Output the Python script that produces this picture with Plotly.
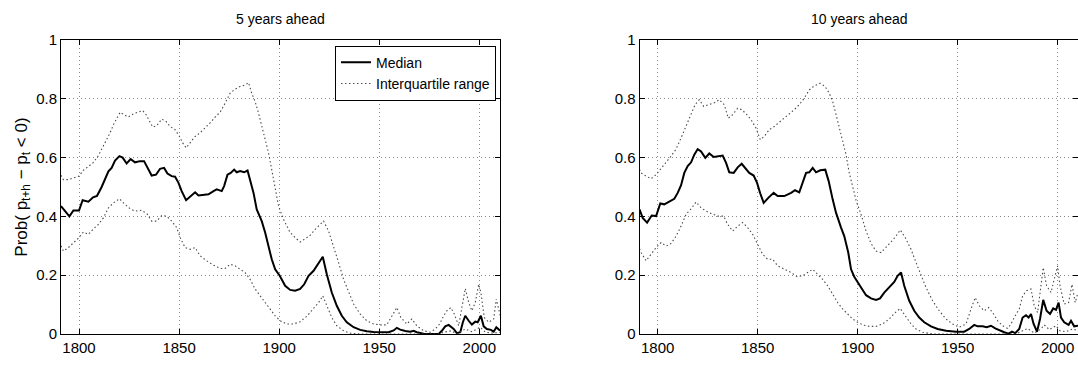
import plotly.graph_objects as go

# ---------------- data: 5 years ahead ----------------
med5_years = [1791, 1793, 1795.2, 1797.2, 1800, 1801.8, 1804.7, 1807, 1809, 1811.3,
              1813, 1814.7, 1816.3, 1818, 1820.2, 1821.8, 1823.8, 1825.8, 1828, 1830.5,
              1832.5, 1834.2, 1836.3, 1838.5, 1840.5, 1842.5, 1844.2, 1846.3, 1848, 1849.7,
              1851.3, 1853.5, 1855.5, 1858, 1859.7, 1862.2, 1864.7, 1867.2, 1868.8, 1871.3,
              1872.5, 1874.2, 1875.8, 1877.5, 1878.8, 1880.5, 1882.5, 1884.2, 1885.5, 1887.2,
              1888.8, 1891.3, 1893, 1894.7, 1896.3, 1898, 1900.3, 1903, 1905.5, 1908,
              1910.5, 1912.5, 1914.7, 1917.2, 1919.2, 1921.3, 1921.8, 1923.8, 1926.3, 1928.8,
              1931.3, 1933.8, 1937.2, 1940.5, 1943.8, 1947.2, 1950.5, 1954.7, 1957.2, 1958.8,
              1960.5, 1963, 1965.5, 1967.2, 1968.8, 1972.2, 1975.5, 1979.7, 1981.3, 1983,
              1984.7, 1985.8, 1987.2, 1988.8, 1990.5, 1991.8, 1993, 1994.7, 1996.3, 1998,
              1999.2, 2000.8, 2002.2, 2003.8, 2005.8, 2007.2, 2008.5, 2009.8, 2010.5]
med5_vals = [0.435, 0.418, 0.40, 0.42, 0.42, 0.455, 0.45, 0.465, 0.47, 0.50,
             0.53, 0.553, 0.565, 0.59, 0.605, 0.60, 0.58, 0.595, 0.584, 0.588,
             0.588, 0.565, 0.539, 0.542, 0.562, 0.565, 0.546, 0.537, 0.535, 0.514,
             0.486, 0.455, 0.467, 0.482, 0.471, 0.473, 0.475, 0.486, 0.492, 0.486,
             0.503, 0.542, 0.548, 0.559, 0.55, 0.554, 0.55, 0.556, 0.525, 0.48,
             0.424, 0.384, 0.345, 0.30, 0.254, 0.22, 0.198, 0.164, 0.15, 0.147,
             0.153, 0.169, 0.198, 0.215, 0.237, 0.26, 0.263, 0.203, 0.141, 0.096,
             0.062, 0.04, 0.023, 0.014, 0.009, 0.007, 0.006, 0.006, 0.012, 0.021,
             0.015, 0.01, 0.008, 0.011, 0.006, 0.001, 0.0, 0.0, 0.011, 0.026,
             0.031, 0.026, 0.017, 0.003, 0.006, 0.04, 0.062, 0.045, 0.032, 0.042,
             0.04, 0.062, 0.026, 0.017, 0.014, 0.008, 0.023, 0.015, 0.012]

up5_years = [1791, 1792.2, 1794.7, 1797.2, 1800, 1802.2, 1804.7, 1807, 1809.7, 1811.8,
             1813.8, 1815.5, 1817.2, 1819.2, 1820.5, 1822.5, 1824.7, 1827.2, 1829.7, 1831.8,
             1833.5, 1835.2, 1836.8, 1838.8, 1841.3, 1843.5, 1845.5, 1848, 1850.2, 1851.8,
             1853.5, 1855.5, 1858, 1860.5, 1863, 1865.5, 1868, 1870.5, 1873, 1875.5,
             1878, 1880.5, 1883, 1884.7, 1886.3, 1888, 1889.7, 1891.3, 1893, 1894.7,
             1896.3, 1898, 1899.7, 1902.2, 1905.5, 1908, 1910.5, 1913, 1915.5, 1918,
             1920.5, 1922.2, 1924.7, 1927.2, 1929.7, 1932.2, 1934.7, 1937.2, 1940.5, 1943.8,
             1947.2, 1950.5, 1953.8, 1957.2, 1958.8, 1960.8, 1963.8, 1966.3, 1968.8, 1972.2,
             1975.5, 1978, 1980.2, 1982.2, 1983.8, 1985.8, 1987.5, 1989.7, 1991.3, 1993,
             1994.7, 1996.3, 1998, 1999.7, 2000.8, 2002.5, 2004.7, 2007.2, 2008.5, 2010.5]
up5_vals = [0.54, 0.525, 0.525, 0.531, 0.537, 0.557, 0.571, 0.582, 0.607, 0.633,
            0.663, 0.684, 0.712, 0.74, 0.754, 0.746, 0.738, 0.749, 0.754, 0.76,
            0.746, 0.723, 0.704, 0.708, 0.731, 0.723, 0.706, 0.695, 0.672, 0.65,
            0.633, 0.65, 0.672, 0.684, 0.70, 0.718, 0.738, 0.754, 0.785, 0.819,
            0.833, 0.842, 0.847, 0.855, 0.819, 0.791, 0.751, 0.706, 0.667, 0.616,
            0.559, 0.497, 0.435, 0.39, 0.345, 0.328, 0.313, 0.324, 0.336, 0.356,
            0.373, 0.384, 0.35, 0.30, 0.243, 0.186, 0.141, 0.102, 0.068, 0.045,
            0.034, 0.031, 0.031, 0.068, 0.09, 0.056, 0.034, 0.051, 0.028, 0.011,
            0.006, 0.017, 0.034, 0.062, 0.079, 0.09, 0.068, 0.028, 0.096, 0.155,
            0.107, 0.079, 0.107, 0.169, 0.141, 0.056, 0.04, 0.051, 0.119, 0.062]

lo5_years = [1791, 1792.2, 1794.7, 1797.2, 1800, 1802.2, 1804.7, 1807, 1809.7, 1812.2,
             1814.7, 1817.2, 1820.2, 1823, 1825.5, 1828, 1831.3, 1834.2, 1836.3, 1838.8,
             1841.3, 1843.8, 1846.3, 1848.8, 1850.8, 1853, 1855.5, 1858, 1860.5, 1863.8,
             1867.2, 1870.5, 1873, 1875.5, 1878, 1880.5, 1883, 1885.5, 1888, 1890.5,
             1893, 1895.5, 1898, 1900.5, 1903.8, 1907.2, 1910.5, 1913.8, 1917.2, 1919.7,
             1921.8, 1923.8, 1926.3, 1928.8, 1932.2, 1935.5, 1940.5, 1960, 1980, 1982.2,
             1986, 1988.8, 1993, 1996.3, 2000.5, 2003, 2007.2, 2010.5]
lo5_vals = [0.30, 0.282, 0.294, 0.31, 0.328, 0.347, 0.339, 0.356, 0.373, 0.395,
            0.429, 0.446, 0.46, 0.441, 0.426, 0.418, 0.421, 0.407, 0.384, 0.384,
            0.403, 0.401, 0.384, 0.362, 0.324, 0.294, 0.288, 0.294, 0.266, 0.249,
            0.234, 0.223, 0.223, 0.237, 0.232, 0.22, 0.209, 0.186, 0.153, 0.13,
            0.107, 0.085, 0.062, 0.045, 0.034, 0.034, 0.042, 0.06, 0.085, 0.107,
            0.13, 0.096, 0.056, 0.028, 0.011, 0.003, 0.0, 0.0, 0.0, 0.006,
            0.011, 0.0, 0.017, 0.008, 0.023, 0.006, 0.003, 0.006]

# ---------------- data: 10 years ahead ----------------
med10_years = [1790.9, 1792.5, 1794.7, 1797, 1799.2, 1801.3, 1803.3, 1805.8, 1808.3, 1810,
               1811.7, 1813.3, 1815, 1816.7, 1818.3, 1820, 1821.7, 1823.8, 1825.8, 1828,
               1830, 1832.5, 1834.2, 1835.8, 1838, 1840, 1842, 1843.7, 1845.8, 1848,
               1849.7, 1851.3, 1853, 1855.3, 1858, 1860, 1863.3, 1866.7, 1868.7, 1870.8,
               1872.5, 1874.2, 1875.8, 1877.5, 1879.2, 1881.3, 1883.8, 1885.5, 1887.5, 1889.2,
               1891.7, 1893.3, 1895.3, 1896.7, 1898.3, 1900, 1901.7, 1904.2, 1906.7, 1909.2,
               1911.2, 1913.3, 1915.8, 1918.3, 1920, 1921.7, 1923.3, 1925.8, 1928.3, 1930.8,
               1933.3, 1936.7, 1940, 1944.2, 1949.2, 1953.3, 1955.8, 1958.3, 1960, 1962.5,
               1964.5, 1966.7, 1968.8, 1971.2, 1973.3, 1975.5, 1977.2, 1978.8, 1980.8, 1982.5,
               1984.2, 1985.5, 1986.7, 1988, 1989.7, 1991.2, 1992.8, 1994.5, 1996.2, 1997.8,
               1999.2, 2000.5, 2001.7, 2003.3, 2005.5, 2006.7, 2008.3, 2010.2]
med10_vals = [0.424, 0.395, 0.379, 0.403, 0.401, 0.444, 0.441, 0.452, 0.46, 0.48,
              0.506, 0.548, 0.571, 0.584, 0.61, 0.629, 0.621, 0.599, 0.614, 0.602,
              0.605, 0.607, 0.582, 0.55, 0.548, 0.567, 0.579, 0.565, 0.548, 0.539,
              0.514, 0.478, 0.446, 0.463, 0.48, 0.469, 0.469, 0.48, 0.489, 0.482,
              0.516, 0.548, 0.55, 0.565, 0.55, 0.557, 0.559, 0.52, 0.458, 0.412,
              0.362, 0.333, 0.277, 0.22, 0.195, 0.175, 0.158, 0.132, 0.121, 0.116,
              0.121, 0.141, 0.158, 0.177, 0.198, 0.209, 0.164, 0.113, 0.079, 0.056,
              0.04, 0.026, 0.017, 0.011, 0.008, 0.008, 0.017, 0.031, 0.026, 0.026,
              0.023, 0.028, 0.019, 0.011, 0.006, 0.001, 0.008, 0.003, 0.017, 0.056,
              0.064, 0.056, 0.068, 0.034, 0.008, 0.051, 0.116, 0.079, 0.068, 0.087,
              0.082, 0.107, 0.056, 0.04, 0.031, 0.045, 0.026, 0.028]

up10_years = [1790.9, 1791.7, 1794.2, 1796.7, 1799.2, 1801.7, 1804.2, 1806.7, 1809.2, 1811.7,
              1814.2, 1816.7, 1818.7, 1820.8, 1823, 1825.3, 1828, 1830.8, 1833.3, 1835.3,
              1837.5, 1840, 1842, 1844.2, 1846.7, 1849.2, 1851.3, 1853.3, 1855.8, 1858.3,
              1860.8, 1863.3, 1865.8, 1868.3, 1870.8, 1873.3, 1875.8, 1878.3, 1881.3, 1883.7,
              1885.8, 1887.5, 1889.2, 1890.8, 1892.5, 1894.2, 1895.8, 1897.5, 1899.2, 1901.7,
              1904.2, 1906.7, 1909.2, 1911.7, 1914.2, 1916.7, 1919.2, 1921.3, 1923.8, 1926.7,
              1929.2, 1931.7, 1934.2, 1937.5, 1940.8, 1944.2, 1947.5, 1950.8, 1954.2, 1956.7,
              1958.8, 1960.8, 1963.3, 1965.5, 1967.5, 1970, 1972.5, 1975, 1976.7, 1978.3,
              1980.8, 1982.5, 1984.5, 1986.7, 1988.3, 1990, 1991.7, 1992.8, 1994.5, 1996.7,
              1998.3, 2000, 2001.2, 2003.3, 2005.5, 2007.2, 2008.8, 2010.2]
up10_vals = [0.56, 0.548, 0.537, 0.528, 0.542, 0.565, 0.584, 0.605, 0.629, 0.667,
             0.706, 0.746, 0.78, 0.797, 0.774, 0.78, 0.785, 0.797, 0.78, 0.734,
             0.746, 0.768, 0.763, 0.749, 0.729, 0.70, 0.661, 0.672, 0.695, 0.706,
             0.72, 0.734, 0.749, 0.763, 0.78, 0.802, 0.83, 0.844, 0.853, 0.842,
             0.819, 0.791, 0.746, 0.70, 0.655, 0.61, 0.548, 0.503, 0.455, 0.407,
             0.35, 0.308, 0.282, 0.277, 0.294, 0.313, 0.333, 0.354, 0.328, 0.288,
             0.243, 0.198, 0.158, 0.113, 0.079, 0.051, 0.034, 0.023, 0.034, 0.085,
             0.124, 0.096, 0.079, 0.09, 0.073, 0.045, 0.028, 0.019, 0.034, 0.056,
             0.085, 0.13, 0.147, 0.153, 0.096, 0.073, 0.164, 0.226, 0.164, 0.141,
             0.186, 0.232, 0.164, 0.102, 0.107, 0.169, 0.107, 0.141]

lo10_years = [1790.9, 1791.7, 1794.2, 1796.7, 1799.2, 1801.7, 1804.2, 1806.7, 1809.2, 1811.7,
              1814.2, 1816.7, 1819.2, 1821.7, 1824.2, 1826.7, 1830, 1833, 1835, 1837.5,
              1840, 1842.5, 1845, 1847.5, 1850, 1852.5, 1855, 1857.5, 1860, 1863.3,
              1866.7, 1869.7, 1872.5, 1875, 1877.5, 1880, 1882.5, 1885, 1887.5, 1890,
              1892.5, 1895, 1897.5, 1900, 1902.5, 1905.8, 1909.2, 1912.5, 1915.8, 1918.8,
              1921.3, 1923.8, 1926.7, 1929.2, 1932.5, 1937.5, 1960, 1979.2, 1982.5, 1985,
              1988.3, 1991.7, 1993.3, 1995.8, 1999.2, 2001.2, 2004.2, 2007.5, 2010.2]
lo10_vals = [0.29, 0.277, 0.249, 0.271, 0.294, 0.311, 0.299, 0.308, 0.333, 0.367,
             0.407, 0.426, 0.449, 0.429, 0.418, 0.41, 0.401, 0.401, 0.373, 0.35,
             0.367, 0.379, 0.362, 0.339, 0.305, 0.271, 0.254, 0.254, 0.232, 0.22,
             0.209, 0.195, 0.198, 0.209, 0.22, 0.203, 0.186, 0.164, 0.136, 0.107,
             0.085, 0.068, 0.051, 0.04, 0.031, 0.026, 0.026, 0.034, 0.051, 0.073,
             0.087, 0.062, 0.034, 0.017, 0.006, 0.0, 0.0, 0.0, 0.011, 0.019,
             0.003, 0.017, 0.031, 0.015, 0.028, 0.011, 0.008, 0.017, 0.011]

panel_titles = ["5 years ahead", "10 years ahead"]
x_ticks = [1800, 1850, 1900, 1950, 2000]
y_ticks = [0, 0.2, 0.4, 0.6, 0.8, 1]
y_ticktext = ["0", "0.2", "0.4", "0.6", "0.8", "1"]

W, H = 1078, 368
FONT = "Liberation Sans, Arial, Helvetica, sans-serif"
MED = dict(color="black", width=2)
IQR = dict(color="#4a4a4a", width=1.1, dash="1.5px,2.5px")

fig = go.Figure()

panels = [
    (med5_years, med5_vals, up5_years, up5_vals, lo5_years, lo5_vals, "x", "y", True),
    (med10_years, med10_vals, up10_years, up10_vals, lo10_years, lo10_vals, "x2", "y2", False),
]
for my, mv, uy, uv, ly, lv, xa, ya, leg in panels:
    fig.add_trace(go.Scatter(x=my, y=mv, mode="lines", line=MED, name="Median",
                             xaxis=xa, yaxis=ya, showlegend=leg, legendrank=1))
    fig.add_trace(go.Scatter(x=uy, y=uv, mode="lines", line=IQR, name="Interquartile range",
                             xaxis=xa, yaxis=ya, showlegend=leg, legendrank=2))
    fig.add_trace(go.Scatter(x=ly, y=lv, mode="lines", line=IQR, name="Interquartile range",
                             xaxis=xa, yaxis=ya, showlegend=False))

ydom = [(H - 334) / H, (H - 40) / H]
xdom1 = [61 / W, 500.3 / W]
xdom2 = [639.5 / W, 1.0]

common_x = dict(tickvals=x_ticks, ticks="inside", ticklen=5, tickcolor="black",
                showline=True, linecolor="black", linewidth=1, mirror="ticks",
                showgrid=True, gridcolor="#8a8a8a", gridwidth=1, griddash="1px,3px",
                zeroline=False, automargin=False,
                tickfont=dict(family=FONT, size=15, color="black"))
common_y = dict(tickvals=y_ticks, ticktext=y_ticktext, range=[0, 1],
                ticks="inside", ticklen=5, tickcolor="black",
                showline=True, linecolor="black", linewidth=1, mirror="ticks",
                showgrid=True, gridcolor="#8a8a8a", gridwidth=1, griddash="1px,3px",
                zeroline=False, automargin=False,
                tickfont=dict(family=FONT, size=15, color="black"))

fig.update_layout(
    width=W, height=H,
    margin=dict(l=0, r=0, t=0, b=0),
    paper_bgcolor="white", plot_bgcolor="white",
    font=dict(family=FONT, size=14, color="black"),
    xaxis=dict(domain=xdom1, range=[1791, 2010.5], anchor="y", **common_x),
    yaxis=dict(domain=ydom, anchor="x",
               title=dict(text="Prob( p<sub>t+h</sub> − p<sub>t</sub> &lt; 0)",
                          font=dict(family=FONT, size=17), standoff=4),
               **common_y),
    xaxis2=dict(domain=xdom2, range=[1790.9, 2010.2], anchor="y2", **common_x),
    yaxis2=dict(domain=ydom, anchor="x2", **common_y),
    legend=dict(x=496 / W, y=(H - 45.7) / H, xanchor="right", yanchor="top",
                bgcolor="white", bordercolor="black", borderwidth=1,
                font=dict(family=FONT, size=14), itemwidth=30,
                tracegroupgap=0),
    showlegend=True,
)

for i, t in enumerate(panel_titles):
    dom = xdom1 if i == 0 else [639.5 / W, 1078.7 / W]
    fig.add_annotation(text=t, x=(dom[0] + dom[1]) / 2, y=(H - 19) / H,
                       xref="paper", yref="paper", showarrow=False,
                       xanchor="center", yanchor="middle",
                       font=dict(family=FONT, size=14, color="black"))

fig.write_html("out.html")
